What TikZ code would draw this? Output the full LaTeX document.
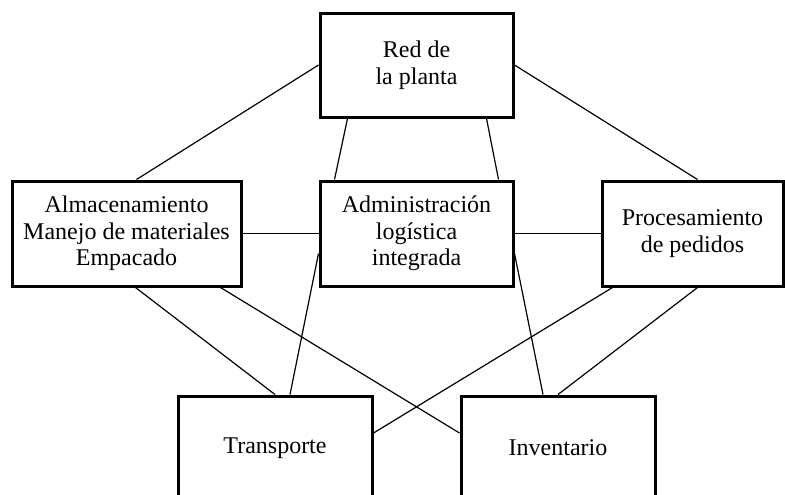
\documentclass[tikz,border=0pt]{standalone}
\usepackage{fontspec}
\setmainfont{Liberation Serif}
\usetikzlibrary{calc}

\begin{document}
\begin{tikzpicture}[x=0.5pt, y=-0.5pt,
	bloque/.style={draw, line width=1.5pt, minimum width=96.5pt, minimum height=52pt, inner sep=0pt, align=center, font=\fontsize{12}{13.3}\selectfont},
	enlace/.style={line width=0.6pt}]

%\draw[step=50, color=gray!50] (0,0) grid (785,494);
\clip (0,0) rectangle (785,494);

\node[bloque] (red) at (416.5, 65) {Red de\\la planta};
\node[bloque, minimum width=114.5pt, minimum height=52.5pt] (alm) at (126.5, 233.5) {Almacenamiento\\Manejo de materiales\\Empacado};
\node[bloque, minimum height=52.5pt] (adm) at (416.5, 233.5) {Administración\\logística\\integrada};
\node[bloque, minimum width=90.5pt, minimum height=52.5pt] (ped) at (692.5, 233.5) {Procesamiento\\de pedidos};
\node[bloque, minimum width=97pt] (tra) at (275, 448) {Transporte};
\node[bloque, minimum width=97pt] (inv) at (558, 448) {Inventario};

% red de la planta
\draw[enlace] ($(alm.north)+(10,0)$) -- (red.west);
\draw[enlace] ($(ped.north)+(5,0)$) -- (red.east);
\draw[enlace] ($(red.south)+(-69,0)$) -- ($(adm.north)+(-82,0)$);
\draw[enlace] ($(red.south)+(70,0)$) -- ($(adm.north)+(82,0)$);

% fila central
\draw[enlace] (alm.east) -- (adm.west);
\draw[enlace] (adm.east) -- (ped.west);

% hacia abajo
\draw[enlace] ($(alm.south)+(9,0)$) -- (tra.north);
\draw[enlace] ($(alm.south)+(94,0)$) -- ($(inv.west)+(0,-15)$);
\draw[enlace] ($(adm.west)+(0,20)$) -- ($(tra.north)+(15,0)$);
\draw[enlace] ($(adm.east)+(0,20)$) -- ($(inv.north)+(-15,0)$);
\draw[enlace] ($(ped.south)+(-80,0)$) -- ($(tra.east)+(0,-15)$);
\draw[enlace] ($(ped.south)+(5,0)$) -- (inv.north);

\end{tikzpicture}
\end{document}
